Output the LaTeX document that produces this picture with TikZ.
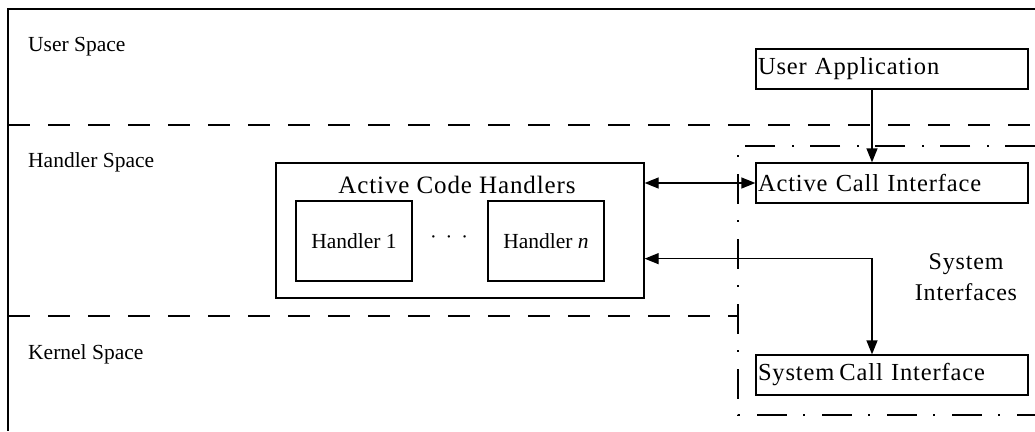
\documentclass[tikz,border=0pt]{standalone}
\usepackage{fontspec}
\setmainfont{Liberation Serif}
\newfontfamily\trackedserif[LetterSpace=3.5]{Liberation Serif}
\usetikzlibrary{arrows.meta,calc}

\tikzset{
  frameline/.style={line width=1.4pt},
  layerline/.style={line width=1.3pt, dash pattern=on 22pt off 18pt},
  groupline/.style={line width=1.3pt, dash pattern=on 30pt off 16pt on 2pt off 17pt},
  ifbox/.style={draw, line width=1.3pt, minimum height=40pt, text width=268pt,
    inner xsep=2pt, inner ysep=0pt, align=left,
    font=\trackedserif\fontsize{24.5}{26}\selectfont},
  hbox/.style={draw, line width=1.3pt, minimum width=116pt, minimum height=80pt,
    inner sep=0pt, font=\fontsize{21.5}{24}\selectfont},
  spacelabel/.style={anchor=base west, inner sep=0pt, font=\fontsize{21.5}{24}\selectfont},
  link/.style={line width=1.3pt, {Triangle[length=14pt,width=11pt]}-{Triangle[length=14pt,width=11pt]}},
  onelink/.style={line width=1.3pt, -{Triangle[length=14pt,width=11pt]}},
}

\begin{document}
\begin{tikzpicture}[x=1pt,y=-1pt]
  \useasboundingbox (0,0) rectangle (1035,431);

  % outer frame (open on the right)
  \draw[frameline] (1035,9) -- (8,9) -- (8,431);

  % layer boundaries
  \draw[layerline] (8,125) -- (1035,125);
  \draw[layerline] (8,316) -- (738,316);

  % system interfaces group
  \draw[groupline] (1035,146) -- (738,146) -- (738,415) -- (1035,415);

  % layer names
  \node[spacelabel] (lus) at (28,51) {User Space};
  \node[spacelabel] (lhs) at (28,167) {Handler Space};
  \node[spacelabel] (lks) at (28,359) {Kernel Space};

  % interface boxes
  \node[ifbox] (ua)  at (892,69)  {User Application};
  \node[ifbox] (aci) at (892,183) {Active Call Interface};
  \node[ifbox] (sci) at (892,375) {System\hspace{5pt}Call Interface};

  \node[align=center, inner sep=0pt, font=\trackedserif\fontsize{24}{31}\selectfont] (sif)
    at (966,277) {System\\Interfaces};

  % active code handlers
  \node[draw, line width=1.3pt, minimum width=368pt, minimum height=135pt, inner sep=0pt]
    (ach) at (460,230.5) {};
  \node[anchor=base, inner sep=0pt, font=\trackedserif\fontsize{25}{28}\selectfont] (acht)
    at (457,193) {Active Code Handlers};
  \node[hbox] (h1) at (354,241) {Handler 1};
  \node[hbox] (hn) at (546,241) {Handler \textit{n}};
  \node[inner sep=0pt, font=\fontsize{20}{24}\selectfont] (dots) at (449,240)
    {·\hspace{9pt}·\hspace{9pt}·};

  % connectors
  \coordinate (vx) at (872,0);
  \coordinate (low) at ($(ach.south east)+(0,-40)$);
  \draw[onelink] (vx |- ua.south) -- (vx |- aci.north);
  \draw[link] (ach.east |- aci.west) -- (aci.west);
  \draw[link] (low) -- (vx |- low) -- (vx |- sci.north);
\end{tikzpicture}
\end{document}
